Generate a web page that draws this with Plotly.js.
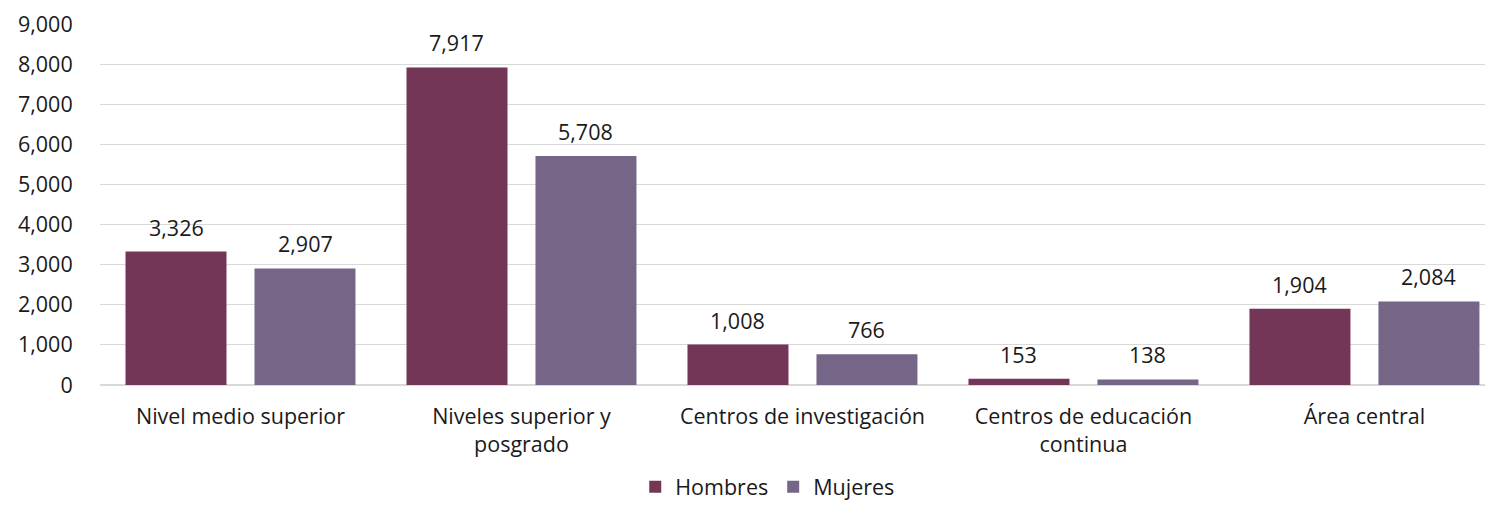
<!DOCTYPE html>
<html>
<head>
<meta charset="utf-8">
<script src="https://cdn.plot.ly/plotly-3.0.1.min.js"></script>
<style>html,body{margin:0;padding:0;overflow:hidden;background:#fff}</style>
</head>
<body>
<div id="chart" style="width:1485px;height:505px"></div>
<script>
const categories = ["Nivel medio superior", "Niveles superior y<br>posgrado", "Centros de investigación", "Centros de educación<br>continua", "Área central"];
const hombres = [3326, 7917, 1008, 153, 1904];
const mujeres = [2907, 5708, 766, 138, 2084];
const seriesNames = ["Hombres", "Mujeres"];
const colors = ["#733657", "#756688"];

const fmt = v => v.toLocaleString("en-US");
const font = {family: "'Open Sans', sans-serif", size: 21.5, color: "#1a1a1a"};

const traces = [hombres, mujeres].map((vals, i) => ({
  type: "bar",
  name: seriesNames[i],
  x: categories,
  y: vals,
  marker: {color: colors[i]},
  hoverinfo: "skip"
}));

// value labels above each bar, placed through the axis scales
const slotShift = 64.5; // half of a group slot in px
const annotations = [];
[hombres, mujeres].forEach((vals, i) => {
  vals.forEach((v, j) => {
    annotations.push({
      x: categories[j], y: v, xref: "x", yref: "y",
      xshift: i === 0 ? -slotShift : slotShift,
      yshift: 8,
      yanchor: "bottom",
      text: fmt(v),
      showarrow: false,
      font: font
    });
  });
});

const layout = {
  width: 1485,
  height: 505,
  margin: {l: 100, r: 0, t: 24, b: 120},
  paper_bgcolor: "#fff",
  plot_bgcolor: "#fff",
  font: font,
  barmode: "group",
  bargap: 0.082,
  bargroupgap: 0.217,
  showlegend: true,
  annotations: annotations,
  legend: {
    orientation: "h",
    xref: "container", yref: "container",
    x: 0.517, xanchor: "center",
    y: 0.036, yanchor: "middle",
    font: font,
    itemwidth: 30
  },
  xaxis: {
    type: "category",
    range: [-0.5, 4.429],
    showgrid: false,
    zeroline: false,
    showline: false,
    ticks: "outside",
    ticklen: 12,
    tickcolor: "rgba(0,0,0,0)",
    tickfont: font,
    fixedrange: true
  },
  yaxis: {
    range: [0, 9000],
    dtick: 1000,
    tickformat: ",d",
    showgrid: true,
    gridcolor: "#d9d9d9",
    gridwidth: 1,
    zeroline: true,
    zerolinecolor: "#d9d9d9",
    zerolinewidth: 2,
    ticks: "outside",
    ticklen: 22,
    tickcolor: "rgba(0,0,0,0)",
    tickfont: font,
    fixedrange: true
  }
};

Plotly.newPlot("chart", traces, layout, {displayModeBar: false, staticPlot: true});
</script>
</body>
</html>
